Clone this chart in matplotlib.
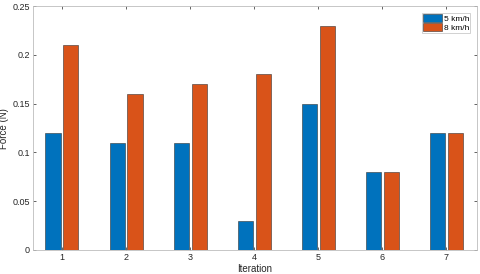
import matplotlib
matplotlib.use("Agg")
import matplotlib.pyplot as plt
import numpy as np

iterations = [1, 2, 3, 4, 5, 6, 7]
force_5kmh = [0.12, 0.11, 0.11, 0.03, 0.15, 0.08, 0.12]
force_8kmh = [0.21, 0.16, 0.17, 0.18, 0.23, 0.08, 0.12]
labels = ["5 km/h", "8 km/h"]

plt.rcParams['font.family'] = ['Liberation Sans', 'DejaVu Sans']
fig = plt.figure(figsize=(4.8, 2.74), dpi=100)
ax = fig.add_axes([0.069, 0.0876, 0.925, 0.89])

x = np.array(iterations)
w = 0.235
off = 0.14
ax.bar(x - off, force_5kmh, w, color='#0072BD', edgecolor='#333333', linewidth=0.4, label=labels[0])
ax.bar(x + off, force_8kmh, w, color='#D95319', edgecolor='#333333', linewidth=0.4, label=labels[1])

ax.set_xlim(0.55, 7.48)
ax.set_ylim(0, 0.25)
ax.set_xticks(iterations)
ax.set_yticks([0, 0.05, 0.1, 0.15, 0.2, 0.25])
ax.set_yticklabels(['0', '0.05', '0.1', '0.15', '0.2', '0.25'])
ax.tick_params(axis='both', labelsize=6.5, colors='#262626', length=2.5, width=0.5,
               direction='in', top=True, right=True, pad=2.5)
for s in ax.spines.values():
    s.set_color('#bdbdbd')
    s.set_linewidth(0.6)
ax.set_xlabel('Iteration', fontsize=7, color='#262626', labelpad=1)
ax.set_ylabel('Force (N)', fontsize=7, color='#262626', labelpad=2)

leg = ax.legend(loc='upper right', fontsize=6, frameon=True, fancybox=False,
                handlelength=2.3, handleheight=1.0, handletextpad=0.15,
                borderpad=0.15, labelspacing=0.1, borderaxespad=0.8)
leg.get_frame().set_edgecolor('#bdbdbd')
leg.get_frame().set_linewidth(0.6)

fig.savefig('out.png', dpi=100)
